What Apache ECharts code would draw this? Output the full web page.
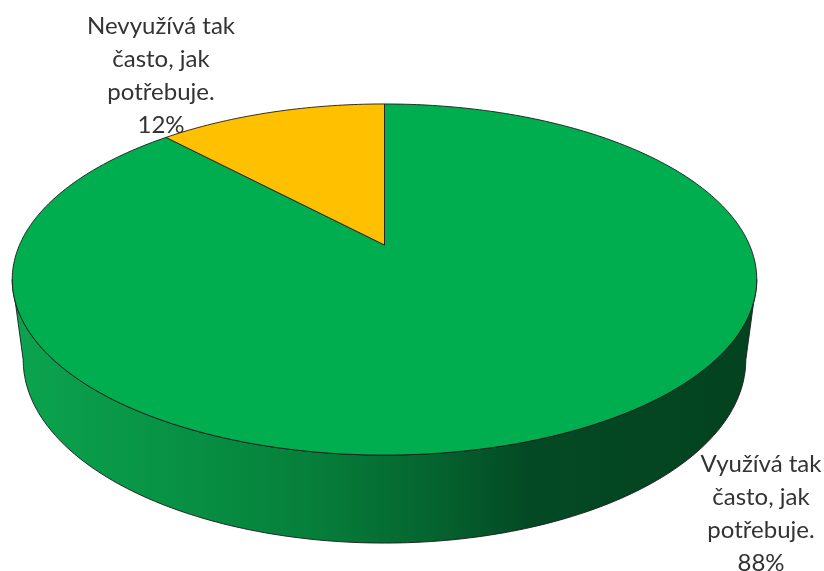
<!DOCTYPE html>
<html>
<head>
<meta charset="utf-8">
<style>html,body{margin:0;padding:0;background:#fff}#c{width:824px;height:571px}</style>
<script src="https://cdn.jsdelivr.net/npm/echarts@6/dist/echarts.min.js"></script>
</head>
<body>
<div id="c"></div>
<script>
// Data, drawn clockwise from the top of the pie
const categories = ['Využívá tak\nčasto, jak\npotřebuje.', 'Nevyužívá tak\nčasto, jak\npotřebuje.'];
const values = [88, 12];
const sliceColors = ['#00AE50', '#FFC000'];

// Perspective pie geometry
const view = {cx: 384.5, k: 365, apexY: 245, a: -120.6, c: 0.1966, rimMidY: 279.5, lowMidY: 360, scaleX: 0.9705, scaleY: 1.0427};
const labelPlace = [[761, 514], [161, 76]];
const total = values.reduce((s, v) => s + v, 0);

function rim(deg) {
  const t = deg * Math.PI / 180, u = Math.sin(t), v = Math.cos(t), d = 1 + view.c * v;
  return [view.cx + view.k * u / d, (view.a * v + view.apexY) / d];
}
function lower(p) {
  return [view.cx + (p[0] - view.cx) * view.scaleX, view.lowMidY + (p[1] - view.rimMidY) * view.scaleY];
}
function arc(from, to) {
  const pts = [], n = Math.max(2, Math.ceil(Math.abs(to - from)));
  for (let i = 0; i <= n; i++) pts.push(rim(from + (to - from) * i / n));
  return pts;
}
const edge = {stroke: '#1c1c1c', lineWidth: 0.9};
// Rim angles where the outline is widest: the front wall lies between them
const wallFrom = 90 + Math.asin(view.c) * 180 / Math.PI, wallTo = 360 - wallFrom;

function renderItem(params, api) {
  const i = params.dataIndex;
  let start = 0;
  for (let j = 0; j < i; j++) start += values[j] / total * 360;
  const end = start + api.value(0) / total * 360;
  const children = [];
  const wFrom = Math.max(start, wallFrom), wTo = Math.min(end, wallTo);
  if (wTo > wFrom) {
    const top = arc(wFrom, wTo);
    children.push({
      type: 'polygon',
      shape: {points: top.concat(top.map(lower).reverse())},
      style: Object.assign({
        fill: new echarts.graphic.LinearGradient(22, 0, 746, 0, [
          {offset: 0, color: '#0BA34E'},
          {offset: 0.24, color: '#078F43'},
          {offset: 0.4, color: '#067F3A'},
          {offset: 0.55, color: '#056730'},
          {offset: 0.7, color: '#034A24'},
          {offset: 1, color: '#03431F'}
        ], true)
      }, edge)
    });
  }
  children.push({
    type: 'polygon',
    shape: {points: [[view.cx, view.apexY]].concat(arc(start, end))},
    style: Object.assign({fill: sliceColors[i]}, edge)
  });
  children.push({
    type: 'text',
    z2: 50,
    x: labelPlace[i][0],
    y: labelPlace[i][1],
    style: {
      text: categories[i] + '\n' + Math.round(api.value(0) / total * 100) + '%',
      font: '400 24px Lato, "Open Sans", sans-serif',
      lineHeight: 33,
      fill: '#333333',
      align: 'center',
      verticalAlign: 'middle'
    }
  });
  return {type: 'group', children};
}

const chart = echarts.init(document.getElementById('c'), null, {renderer: 'canvas'});
chart.setOption({
  animation: false,
  backgroundColor: '#fff',
  series: [{
    type: 'custom',
    coordinateSystem: 'none',
    renderItem,
    data: values.map(v => [v])
  }]
});
</script>
</body>
</html>
